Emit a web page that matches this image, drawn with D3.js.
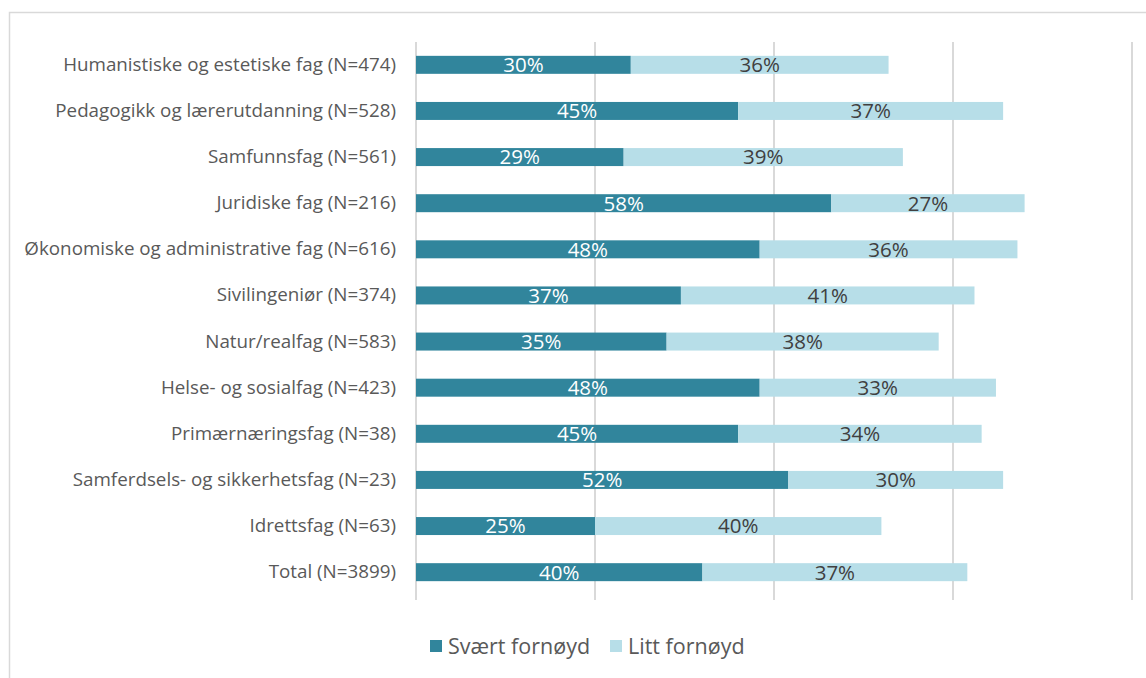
<!DOCTYPE html>
<html>
<head>
<meta charset="utf-8">
<script src="https://cdn.jsdelivr.net/npm/d3@7"></script>
<style>
  body { margin: 0; background: #fff; }
  #chart { width: 1146px; height: 678px; }
  text { font-family: "Open Sans", sans-serif; }
</style>
</head>
<body>
<div id="chart"></div>
<script>
var categories = [
  "Humanistiske og estetiske fag (N=474)",
  "Pedagogikk og lærerutdanning (N=528)",
  "Samfunnsfag (N=561)",
  "Juridiske fag (N=216)",
  "Økonomiske og administrative fag (N=616)",
  "Sivilingeniør (N=374)",
  "Natur/realfag (N=583)",
  "Helse- og sosialfag (N=423)",
  "Primærnæringsfag (N=38)",
  "Samferdsels- og sikkerhetsfag (N=23)",
  "Idrettsfag (N=63)",
  "Total (N=3899)"
];
var svaert = [30, 45, 29, 58, 48, 37, 35, 48, 45, 52, 25, 40];
var litt   = [36, 37, 39, 27, 36, 41, 38, 33, 34, 30, 40, 37];
var seriesNames = ["Svært fornøyd", "Litt fornøyd"];
var ticks = [0, 25, 50, 75, 100];

var colors = ["#31859c", "#b7dee8"],
    labelColors = ["#ffffff", "#404040"],
    width = 1146,
    height = 678,
    plotLeft = 416,
    plotRight = 1132,
    plotTop = 42,
    plotBottom = 600;

var rows = categories.map(function(c, i) {
  return {cat: c, s0: svaert[i], s1: litt[i]};
});

var svg = d3.select("#chart")
  .append("svg")
  .attr("width", width)
  .attr("height", height);

// outer frame (only top/left visible in the crop)
svg.append("rect")
  .attr("x", 9.5)
  .attr("y", 12.5)
  .attr("width", 1200)
  .attr("height", 800)
  .attr("fill", "none")
  .attr("stroke", "#d9d9d9")
  .attr("stroke-width", 1.5);

var x = d3.scaleLinear().domain([0, 100]).range([plotLeft, plotRight]);
var y = d3.scaleBand().domain(categories).range([plotTop, plotBottom - 5]).paddingInner(0.61).paddingOuter(0.3);

// gridlines
svg.append("g")
  .selectAll("line")
  .data(ticks)
  .enter()
  .append("line")
  .attr("x1", function(d){ return x(d); })
  .attr("x2", function(d){ return x(d); })
  .attr("y1", plotTop)
  .attr("y2", plotBottom)
  .attr("stroke", "#d9d9d9")
  .attr("stroke-width", 2);

var stack = d3.stack().keys(["s0", "s1"])(rows);

var layer = svg.selectAll("g.layer")
  .data(stack)
  .enter()
  .append("g")
  .attr("class", "layer")
  .attr("fill", function(d, i){ return colors[i]; });

layer.selectAll("rect")
  .data(function(d){ return d; })
  .enter()
  .append("rect")
  .attr("x", function(d){ return x(d[0]); })
  .attr("y", function(d){ return y(d.data.cat); })
  .attr("width", function(d){ return x(d[1]) - x(d[0]); })
  .attr("height", y.bandwidth());

stack.forEach(function(s, k) {
  svg.append("g")
    .selectAll("text")
    .data(s)
    .enter()
    .append("text")
    .attr("x", function(d){ return (x(d[0]) + x(d[1])) / 2; })
    .attr("y", function(d){ return y(d.data.cat) + y.bandwidth() / 2; })
    .attr("dy", ".36em")
    .attr("text-anchor", "middle")
    .attr("font-size", "20.5px")
    .attr("fill", labelColors[k])
    .text(function(d){ return (d[1] - d[0]) + "%"; });
});

// category labels
var yAxis = d3.axisLeft(y).tickSize(0).tickPadding(20);
var ya = svg.append("g")
  .attr("transform", "translate(" + plotLeft + ",0)")
  .call(yAxis);
ya.select(".domain").remove();
ya.selectAll("text")
  .attr("font-family", "Open Sans, sans-serif")
  .attr("font-size", "18.8px")
  .attr("fill", "#595959");

// legend
var legend = svg.append("g").attr("transform", "translate(430,646)");
var lx = [0, 180];
seriesNames.forEach(function(n, i) {
  var g = legend.append("g").attr("transform", "translate(" + lx[i] + ",0)");
  g.append("rect").attr("x", 0).attr("y", -6).attr("width", 12).attr("height", 12).attr("fill", colors[i]);
  g.append("text").attr("x", 18).attr("dy", ".36em")
    .attr("font-size", "21.5px").attr("fill", "#595959").text(n);
});
</script>
</body>
</html>
